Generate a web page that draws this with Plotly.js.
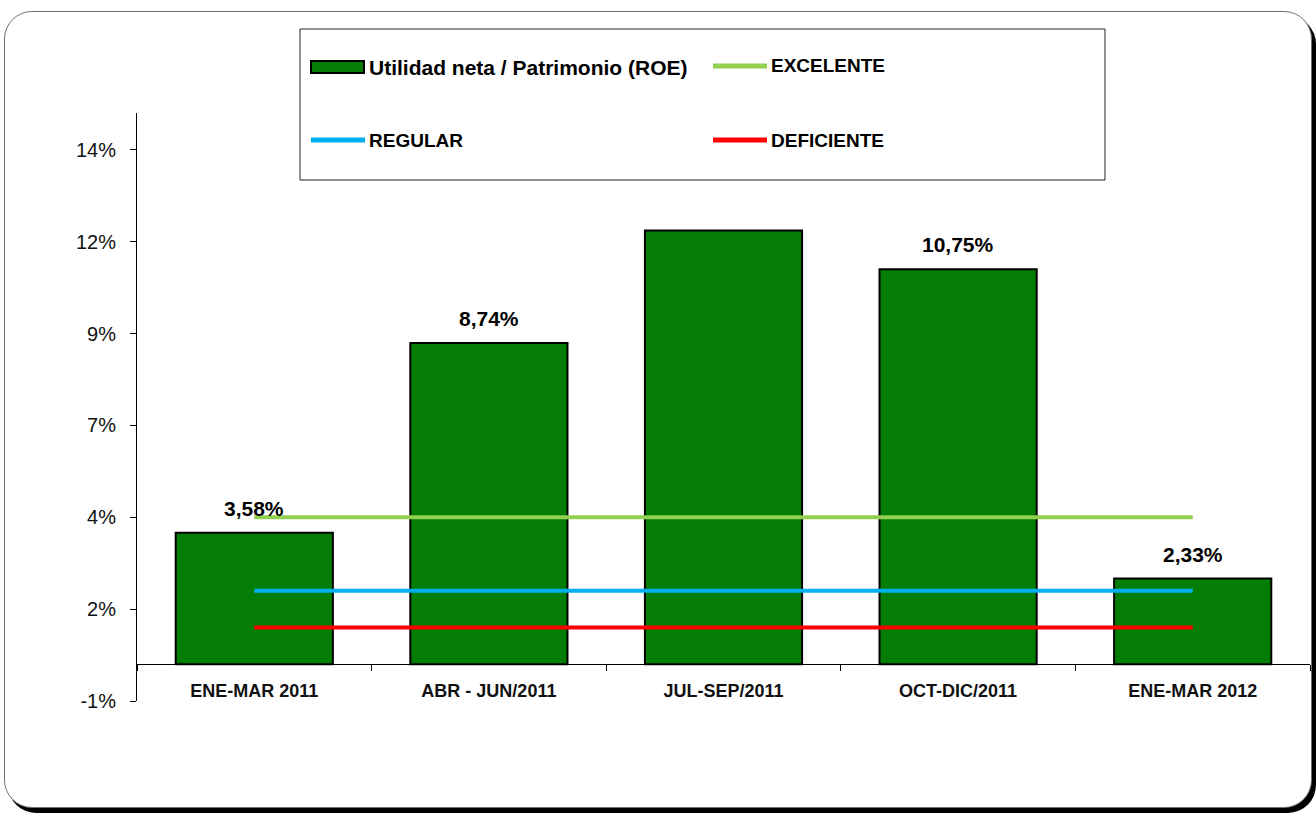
<!DOCTYPE html>
<html>
<head>
<meta charset="utf-8">
<script src="https://cdn.plot.ly/plotly-3.0.1.min.js"></script>
<style>
  html, body { margin: 0; padding: 0; background: #ffffff; }
  #wrap { position: relative; width: 1316px; height: 817px; overflow: hidden; }
  #frame { position: absolute; left: 4px; top: 11px; width: 1306px; height: 795px;
           border: 1.5px solid #6e6e6e; border-radius: 28px;
           box-shadow: 4px 5px 0 #000000; background: #ffffff; }
  #chart { position: absolute; left: 0; top: 0; width: 1316px; height: 817px; }
</style>
</head>
<body>
<div id="wrap">
  <div id="frame"></div>
  <div id="chart"></div>
</div>
<script>
// ---- data ----
const categories = ["ENE-MAR 2011", "ABR - JUN/2011", "JUL-SEP/2011", "OCT-DIC/2011", "ENE-MAR 2012"];
const roeValues = [3.58, 8.74, 11.80, 10.75, 2.33];
const roeLabels = ["3,58%", "8,74%", "", "10,75%", "2,33%"];
const excelente = [4, 4, 4, 4, 4];
const regular = [2, 2, 2, 2, 2];
const deficiente = [1, 1, 1, 1, 1];
const seriesNames = ["Utilidad neta / Patrimonio (ROE)", "EXCELENTE", "REGULAR", "DEFICIENTE"];
const yTickVals = [-1, 1.5, 4, 6.5, 9, 11.5, 14];
const yTickText = ["-1%", "2%", "4%", "7%", "9%", "12%", "14%"];

// ---- styles ----
const FONT = "Liberation Sans, Arial, sans-serif";
const GREEN = "#037d03";
const C_EXC = "#92d050";
const C_REG = "#00b0f0";
const C_DEF = "#ff0000";

const M = {l: 137, r: 6, t: 113, b: 116};
const W = 1316, H = 817;
const PW = W - M.l - M.r, PH = H - M.t - M.b;
const px = v => (v - M.l) / PW;
const py = v => (H - M.b - v) / PH;

const traces = [
  {type: "bar", x: categories, y: roeValues, name: seriesNames[0],
   marker: {color: GREEN, line: {color: "#000000", width: 2}}, showlegend: false,
   hoverinfo: "x+y"},
  {type: "scatter", mode: "lines", x: categories, y: excelente, name: seriesNames[1],
   line: {color: C_EXC, width: 4}, showlegend: false},
  {type: "scatter", mode: "lines", x: categories, y: regular, name: seriesNames[2],
   line: {color: C_REG, width: 4}, showlegend: false},
  {type: "scatter", mode: "lines", x: categories, y: deficiente, name: seriesNames[3],
   line: {color: C_DEF, width: 4}, showlegend: false}
];

// data labels
const annotations = categories.map((c, i) => ({
  x: c, y: roeValues[i], xref: "x", yref: "y", text: roeLabels[i],
  showarrow: false, yanchor: "bottom", yshift: 11,
  font: {family: FONT, size: 21, color: "#000000", weight: "bold"}
})).filter(a => a.text !== "");

// custom legend
const legendItems = [
  {name: seriesNames[0], kind: "bar", color: GREEN, sx: 311, ty: 67},
  {name: seriesNames[1], kind: "line", color: C_EXC, sx: 713, ty: 66},
  {name: seriesNames[2], kind: "line", color: C_REG, sx: 311, ty: 140},
  {name: seriesNames[3], kind: "line", color: C_DEF, sx: 713, ty: 140}
];
const shapes = [
  {type: "rect", xref: "paper", yref: "paper", x0: px(300), x1: px(1105), y0: py(29), y1: py(180),
   line: {color: "#222222", width: 1}, fillcolor: "rgba(255,255,255,0)", layer: "above"}
];
legendItems.forEach(it => {
  if (it.kind === "bar") {
    shapes.push({type: "rect", xref: "paper", yref: "paper",
      x0: px(it.sx), x1: px(it.sx + 53), y0: py(it.ty - 6), y1: py(it.ty + 6),
      fillcolor: it.color, line: {color: "#000000", width: 2}});
  } else {
    shapes.push({type: "line", xref: "paper", yref: "paper",
      x0: px(it.sx), x1: px(it.sx + 54), y0: py(it.ty), y1: py(it.ty),
      line: {color: it.color, width: 5}});
  }
  annotations.push({xref: "paper", yref: "paper", x: px(it.sx + 56), y: py(it.ty),
    xanchor: "left", yanchor: "middle", showarrow: false, text: it.name,
    font: {family: FONT, size: it.kind === "bar" ? 21 : 19, color: "#000000", weight: "bold"}});
});

const layout = {
  width: W, height: H,
  margin: M,
  paper_bgcolor: "rgba(0,0,0,0)",
  plot_bgcolor: "rgba(0,0,0,0)",
  bargap: 0.33,
  showlegend: false,
  font: {family: FONT, color: "#000000"},
  xaxis: {
    type: "category", anchor: "free", position: 1 / 16,
    showline: true, linecolor: "#000000", linewidth: 1,
    ticks: "outside", tickson: "boundaries", ticklen: 6, tickcolor: "#000000",
    showgrid: false, zeroline: false, ticklabelstandoff: 10,
    tickfont: {family: FONT, size: 18, color: "#111111", weight: "bold"}
  },
  yaxis: {
    range: [-1, 15], showline: true, linecolor: "#000000", linewidth: 1,
    ticks: "outside", ticklen: 6, tickcolor: "#000000",
    tickvals: yTickVals, ticktext: yTickText,
    showgrid: false, zeroline: false, ticklabelstandoff: 10,
    tickfont: {family: FONT, size: 20, color: "#111111"}
  },
  shapes: shapes,
  annotations: annotations
};

Plotly.newPlot("chart", traces, layout, {displayModeBar: false, staticPlot: true});
</script>
</body>
</html>
